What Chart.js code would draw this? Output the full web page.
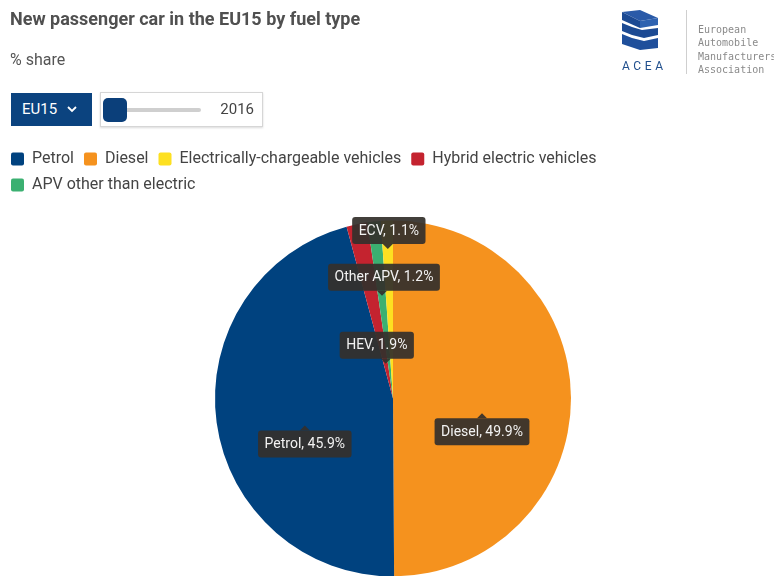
<!DOCTYPE html>
<html>
<head>
<meta charset="utf-8">
<script src="https://cdn.jsdelivr.net/npm/chart.js@4.4.1/dist/chart.umd.min.js"></script>
<style>
  html, body { margin:0; padding:0; background:#fff; width:774px; height:576px; overflow:hidden; font-family: Roboto, "Noto Sans", sans-serif; }
  #wrap { position:relative; width:774px; height:576px; overflow:hidden; }
  #c { position:absolute; left:0; top:0; }
  .title { position:absolute; left:10px; top:8px; font-size:18px; font-weight:700; color:#505050; }
  .sub { position:absolute; left:10px; top:50px; font-size:16px; color:#555; }
  .dd { position:absolute; left:11px; top:93px; width:81px; height:33px; background:#0b437f; color:#fff; font-size:15px; box-sizing:border-box; padding-left:11px; line-height:33px; }
  .dd svg { position:absolute; left:56px; top:13px; }
  .sl { position:absolute; left:100px; top:92px; width:163px; height:35px; border:1px solid #d6d6d6; box-sizing:border-box; background:#fff; box-shadow:0 1px 2px rgba(0,0,0,0.15); }
  .track { position:absolute; left:10px; top:15px; width:90px; height:4px; background:#cfcfcf; border-radius:2px; }
  .thumb { position:absolute; left:2px; top:5px; width:24px; height:24px; background:#0b3f7a; border-radius:5px; }
  .yr { position:absolute; right:8px; top:7px; font-size:15px; color:#444; }
  .logo { position:absolute; left:618px; top:8px; }
  .acea { position:absolute; left:622px; top:59px; font-size:12px; letter-spacing:3.6px; color:#1f4e8c; }
  .div { position:absolute; left:686px; top:10px; width:1px; height:64px; background:#cfcfcf; }
  .org { position:absolute; left:698px; top:23px; font-family:"DejaVu Sans Mono", monospace; font-size:10px; line-height:13.3px; color:#8a8a8a; white-space:nowrap; }
</style>
</head>
<body>
<div id="wrap">
  <canvas id="c" width="786" height="594" style="width:786px;height:594px"></canvas>
  <div class="title">New passenger car in the EU15 by fuel type</div>
  <div class="sub">% share</div>
  <div class="dd">EU15<svg width="10" height="7" viewBox="0 0 10 7"><path d="M1 1 L5 5 L9 1" stroke="#fff" stroke-width="1.8" fill="none"/></svg></div>
  <div class="sl"><div class="track"></div><div class="thumb"></div><div class="yr">2016</div></div>
  <svg class="logo" width="44" height="46" viewBox="0 0 44 46">
    <polygon points="4,4 22,2 40,10 22,13" fill="#2a5aa8"/>
    <polygon points="4,4 22,13 22,20 4,12" fill="#1c4a93"/>
    <polygon points="22,13 40,10 40,17 22,20" fill="#2e62b0"/>
    <polygon points="4,15 14,19 24,22 40,20 40,27 26,30 14,27 4,23" fill="#1c4a93"/>
    <polygon points="4,26 14,30 26,33 40,30 40,40 22,42 4,36" fill="#1f4f9b"/>
  </svg>
  <div class="acea">ACEA</div>
  <div class="div"></div>
  <div class="org">European<br>Automobile<br>Manufacturers<br>Association</div>
</div>
<script>
// ---- data ----
const categories = ['Diesel', 'Petrol', 'Hybrid electric vehicles', 'APV other than electric', 'Electrically-chargeable vehicles'];
const shortNames = ['Diesel', 'Petrol', 'HEV', 'Other APV', 'ECV'];
const shares = [49.9, 45.9, 1.9, 1.2, 1.1];
const legendOrder = ['Petrol', 'Diesel', 'Electrically-chargeable vehicles', 'Hybrid electric vehicles', 'APV other than electric'];

// ---- style ----
const colors = ['#f5921e', '#00427f', '#c4232f', '#3bb071', '#fde021'];
const labelRadius = [0.5, 0.5, 0.2, 0.58, 0.84];
const labelSide = ['below', 'below', 'above', 'above', 'above'];
const labelDx = [0, 0, -9, 2, 1];

const labelPlugin = {
  id: 'calloutLabels',
  afterDatasetsDraw(chart) {
    const ctx = chart.ctx;
    const meta = chart.getDatasetMeta(0);
    ctx.save();
    ctx.font = '14px Roboto, sans-serif';
    ctx.textBaseline = 'middle';
    ctx.textAlign = 'center';
    meta.data.forEach((arc, i) => {
      const p = arc.getProps(['x', 'y', 'startAngle', 'endAngle', 'outerRadius'], true);
      const mid = (p.startAngle + p.endAngle) / 2;
      const ax = p.x + Math.cos(mid) * p.outerRadius * labelRadius[i];
      const ay = p.y + Math.sin(mid) * p.outerRadius * labelRadius[i];
      const text = shortNames[i] + ', ' + shares[i].toFixed(1) + '%';
      const w = ctx.measureText(text).width + 13;
      const h = 27;
      const cx = ax + labelDx[i];
      let top;
      if (labelSide[i] === 'below') top = ay + 20; else top = ay - 5 - h;
      const left = cx - w / 2;
      ctx.fillStyle = 'rgba(52,48,44,0.93)';
      ctx.beginPath();
      if (ctx.roundRect) ctx.roundRect(left, top, w, h, 3); else ctx.rect(left, top, w, h);
      ctx.fill();
      ctx.beginPath();
      if (labelSide[i] === 'below') {
        ctx.moveTo(ax - 5, top); ctx.lineTo(ax, top - 5); ctx.lineTo(ax + 5, top);
      } else {
        ctx.moveTo(ax - 5, top + h); ctx.lineTo(ax, top + h + 5); ctx.lineTo(ax + 5, top + h);
      }
      ctx.fill();
      ctx.fillStyle = '#f2f2f2';
      ctx.fillText(text, cx, top + h / 2 + 0.5);
    });
    ctx.restore();
  }
};

new Chart(document.getElementById('c'), {
  type: 'pie',
  data: {
    labels: categories,
    datasets: [{
      data: shares,
      backgroundColor: colors,
      borderWidth: 0,
      radius: 178
    }]
  },
  options: {
    responsive: false,
    animation: false,
    events: [],
    layout: { padding: { top: 141, left: 1, right: 1, bottom: 0 } },
    plugins: {
      tooltip: { enabled: false },
      legend: {
        position: 'top',
        align: 'start',
        labels: {
          boxWidth: 13,
          boxHeight: 13,
          useBorderRadius: true,
          borderRadius: 2,
          padding: 10,
          color: '#444',
          font: { family: 'Roboto, sans-serif', size: 16 },
          sort: (a, b) => legendOrder.indexOf(a.text) - legendOrder.indexOf(b.text)
        }
      }
    }
  },
  plugins: [labelPlugin]
});
</script>
</body>
</html>
